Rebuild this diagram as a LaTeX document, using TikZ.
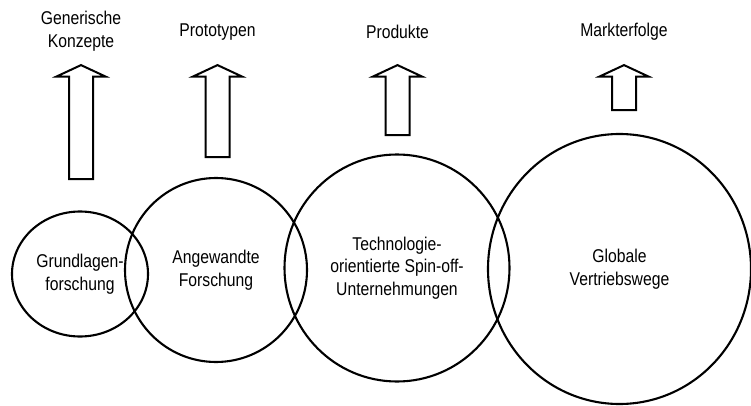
\documentclass[tikz,border=0pt]{standalone}
\usepackage{fontspec}
\setmainfont[FakeStretch=0.85]{Liberation Sans}
\usetikzlibrary{shapes.geometric,shapes.arrows,positioning}

\begin{document}
\begin{tikzpicture}[x=1pt,y=-1pt,
				font=\fontsize{18.5}{22.5}\selectfont,
				phase/.style={draw,ellipse,line width=2.1pt,align=center,inner sep=0pt},
				upArrow/.style={draw,line width=2pt,single arrow,rotate=90,anchor=tip,
						single arrow tip angle=130,single arrow head extend=12.5pt,
						inner xsep=0pt,inner ysep=11pt},
				result/.style={align=center,inner sep=0pt}]
			\useasboundingbox (0,0) rectangle (751,406);
			% phases
			\node [phase,minimum width=136pt,minimum height=125pt] (grund) at (80,274) {Grundlagen-\\forschung};
			\node [phase,minimum width=182pt,minimum height=184pt] (angew) at (216,270) {Angewandte\\Forschung};
			\node [phase,minimum width=225pt,minimum height=227pt] (spinoff) at (397,268) {Technologie-\\orientierte Spin-off-\\Unternehmungen};
			\node [phase,minimum width=263pt,minimum height=270pt] (vertrieb) at (619.5,269) {Globale\\Vertriebswege};
			% outputs
			\node [upArrow,minimum height=114pt] (pfeilA) at (81,64) {};
			\node [upArrow,minimum height=92pt] (pfeilB) at (217.5,64) {};
			\node [upArrow,minimum height=70pt] (pfeilC) at (397.5,64) {};
			\node [upArrow,minimum height=45pt] (pfeilD) at (624,64) {};
			\node [result] (konzepte) at (81,31) {Generische\\Konzepte};
			\node [result] (prototypen) at (217.5,32) {Prototypen};
			\node [result] (produkte) at (397.5,32) {Produkte};
			\node [result] (markt) at (624,32) {Markterfolge};
		\end{tikzpicture}
\end{document}
